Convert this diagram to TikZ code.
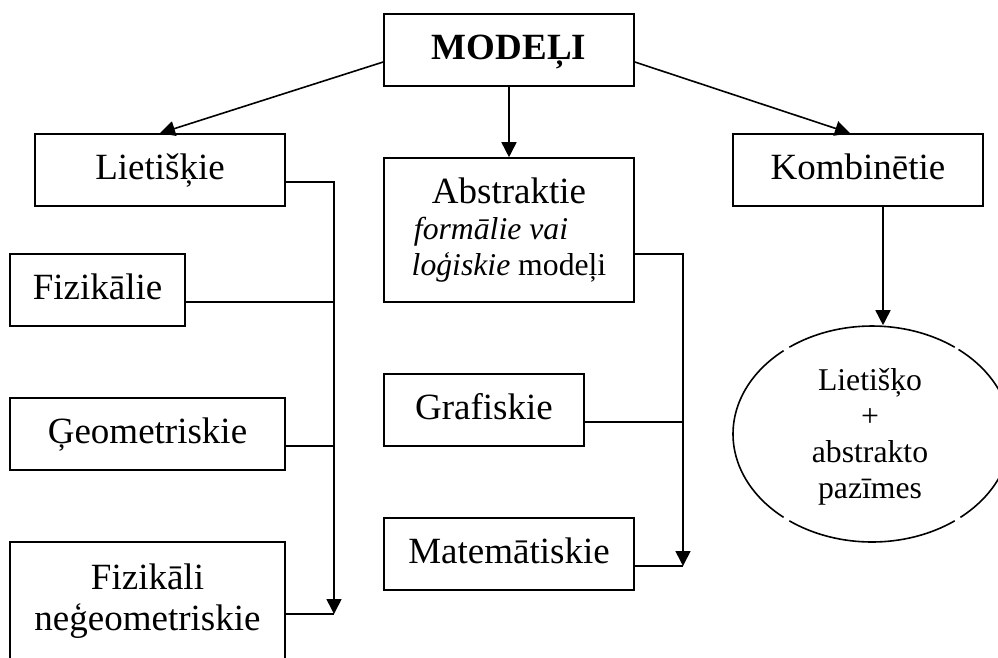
\documentclass[tikz,border=0pt]{standalone}
\usepackage{fontspec}
\setmainfont{Liberation Serif}
\usetikzlibrary{arrows.meta,shapes.geometric}
\newcommand{\smallfs}{\fontsize{31.7}{36}\selectfont}
\begin{document}
\begin{tikzpicture}[x=1pt,y=-1pt,
  line width=1.6pt,
  box/.style={draw, rectangle, inner sep=0pt, minimum height=72pt,
    font=\fontsize{37}{38}\selectfont, text height=26pt, text depth=8pt},
  mbox/.style={draw, rectangle, inner sep=0pt, align=center},
  arr/.style={-{Triangle[length=15pt,width=15pt]}},
  ]
\useasboundingbox (0,0) rectangle (998,657);
\clip (0,0) rectangle (998,657);

\node[box, minimum width=250pt, font=\fontsize{37}{38}\selectfont\bfseries] (mod) at (509,50) {MODEĻI};
\node[box, minimum width=250pt] (liet) at (160,170) {Lietišķie};
\node[mbox, minimum width=250pt, minimum height=144pt, font=\fontsize{37}{36}\selectfont] (abs) at (509,230)
  {Abstraktie\\\smallfs\textit{formālie vai}\rule{36pt}{0pt}\\\smallfs\textit{loģiskie} modeļi};
\node[box, minimum width=250pt] (komb) at (858,170) {Kombinētie};
\node[box, minimum width=175pt] (fiz) at (97.5,290) {Fizikālie};
\node[box, minimum width=275pt] (geo) at (147.5,434) {Ģeometriskie};
\node[draw, rectangle, minimum width=275pt, minimum height=150pt, inner sep=0pt] (fn) at (147.5,617) {};
\node[mbox, draw=none, font=\fontsize{37}{41.5}\selectfont] (fnt) at (147.5,601) {Fizikāli\\neģeometriskie};
\node[box, minimum width=200pt] (graf) at (484,410) {Grafiskie};
\node[box, minimum width=250pt] (mat) at (509,554) {Matemātiskie};

% ellipse (drawn as four arcs with small gaps, as in the original)
\node[ellipse, inner sep=0pt, minimum width=278pt, minimum height=216pt] (ell) at (872,434) {};
\foreach \a/\b in {53.5/126.5, 129.5/230.5, 233.5/306.5, 309.5/411.5}
  \draw ([shift={(\a:139pt and 108pt)}]ell.center) arc[start angle=\a, end angle=\b, x radius=139pt, y radius=108pt];
\node[align=center, inner sep=0pt, font=\smallfs] (ellt) at (870,437)
  {Lietišķo\\+\\abstrakto\\pazīmes};

\coordinate (busL) at (334,614);
\coordinate (busA) at (683,566);
\coordinate (kombArr) at ([xshift=25pt]komb.south);

\draw[arr] ([yshift=-12pt]mod.west) -- (liet.north);
\draw[arr] (mod.south) -- (abs.north);
\draw[arr] ([yshift=-12pt]mod.east) -- ([xshift=-8pt]komb.north);
\draw[arr] (kombArr) -- (kombArr |- ell.north);

\coordinate (lietR) at ([yshift=-12pt]liet.east);
\coordinate (fizR) at ([yshift=-12pt]fiz.east);
\coordinate (geoR) at ([yshift=-12pt]geo.east);
\draw[arr] (lietR) -| (busL);
\draw (fizR) -- (fizR -| busL);
\draw (geoR) -- (geoR -| busL);
\draw (fn.east |- busL) -- (busL);

\coordinate (absR) at ([yshift=-24pt]abs.east);
\coordinate (grafR) at ([yshift=-12pt]graf.east);
\coordinate (matR) at ([yshift=-12pt]mat.east);
\draw[arr] (absR) -| (busA);
\draw (grafR) -- (grafR -| busA);
\draw (matR) -- (busA);
\end{tikzpicture}
\end{document}
